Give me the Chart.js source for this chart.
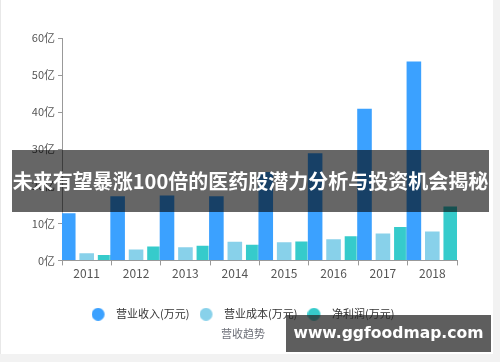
<!DOCTYPE html>
<html>
<head>
<meta charset="utf-8">
<script src="https://cdn.jsdelivr.net/npm/chart.js@4.4.1/dist/chart.umd.min.js"></script>
<style>
  html, body { margin: 0; padding: 0; background: #f2f2f2; }
  #wrap { position: absolute; left: 0; top: 0; width: 493px; height: 354px; background: #fff; border-left: 1px solid #e8e8e8; box-sizing: border-box; }
  #wrap canvas { position: absolute; left: 0; top: 0; }
  .banner { position: absolute; left: 12px; top: 150px; width: 477px; height: 62px; background: rgba(0,0,0,0.6);
    color: #fff; font: bold 20px "Noto Sans CJK SC", sans-serif; line-height: 62px; text-align: center; white-space: nowrap; }
  .mark { position: absolute; left: 286px; top: 315px; width: 205px; height: 37px; background: rgba(40,40,40,0.75);
    color: #fff; font: bold 15.6px "DejaVu Sans", sans-serif; line-height: 37px; text-align: center; }
</style>
</head>
<body>
<div id="wrap"><canvas id="chart" width="493" height="354"></canvas></div>
<div class="banner">未来有望暴涨100倍的医药股潜力分析与投资机会揭秘</div>
<div class="mark">www.ggfoodmap.com</div>
<script>
// values in 亿
const years = ['2011', '2012', '2013', '2014', '2015', '2016', '2017', '2018'];
const revenue = [13, 17.6, 17.8, 17.6, 24.1, 29.2, 41.2, 53.9];
const cost = [2.2, 3.2, 3.8, 5.3, 5.2, 6.0, 7.5, 8.1];
const profit = [1.7, 4.0, 4.2, 4.5, 5.4, 6.8, 9.3, 14.8];
const seriesNames = ['营业收入(万元)', '营业成本(万元)', '净利润(万元)'];
const colors = ['#3ba1ff', '#88d1ea', '#36cbcb'];

// legend marker: circle on the left of a wider transparent box
function legendDot(color) {
  const c = document.createElement('canvas');
  c.width = 19; c.height = 13;
  const g = c.getContext('2d');
  g.fillStyle = color;
  g.beginPath();
  g.arc(6.5, 6.5, 6.5, 0, Math.PI * 2);
  g.fill();
  return c;
}

const font = '"Noto Sans CJK SC", sans-serif';

new Chart(document.getElementById('chart'), {
  type: 'bar',
  data: {
    labels: years,
    datasets: [revenue, cost, profit].map((d, i) => ({
      label: seriesNames[i],
      data: d,
      backgroundColor: colors[i],
      borderColor: 'rgba(255,255,255,0.5)',
      borderWidth: 1,
      barPercentage: 0.9,
      categoryPercentage: 1.12,
      pointStyle: legendDot(colors[i])
    }))
  },
  options: {
    responsive: false,
    animation: false,
    layout: { padding: { left: 28, right: 37, top: 38, bottom: 10 } },
    plugins: {
      tooltip: { enabled: false },
      legend: {
        position: 'bottom',
        labels: {
          usePointStyle: true,
          pointStyleWidth: 19,
          boxHeight: 11,
          padding: 10,
          color: '#333',
          font: { family: font, size: 11 }
        }
      },
      title: {
        display: true,
        position: 'bottom',
        text: '营收趋势',
        color: '#6e7079',
        font: { family: font, size: 11, weight: 'normal' },
        padding: { top: -3, bottom: 4 }
      }
    },
    scales: {
      x: {
        afterFit: s => { s.height += 17; },
        grid: { offset: true, drawOnChartArea: false, drawTicks: true, tickLength: 5, color: '#999' },
        border: { display: true, color: '#999' },
        ticks: { color: '#555', padding: 1, font: { family: font, size: 12 } }
      },
      y: {
        min: 0,
        max: 60,
        afterFit: s => { s.width = 33; },
        grid: { drawOnChartArea: false, drawTicks: true, tickLength: 4, color: '#999' },
        border: { display: true, color: '#999' },
        ticks: {
          stepSize: 10,
          color: '#555',
          padding: 3,
          font: { family: font, size: 11 },
          callback: v => v + '亿'
        }
      }
    }
  }
});
</script>
</body>
</html>
